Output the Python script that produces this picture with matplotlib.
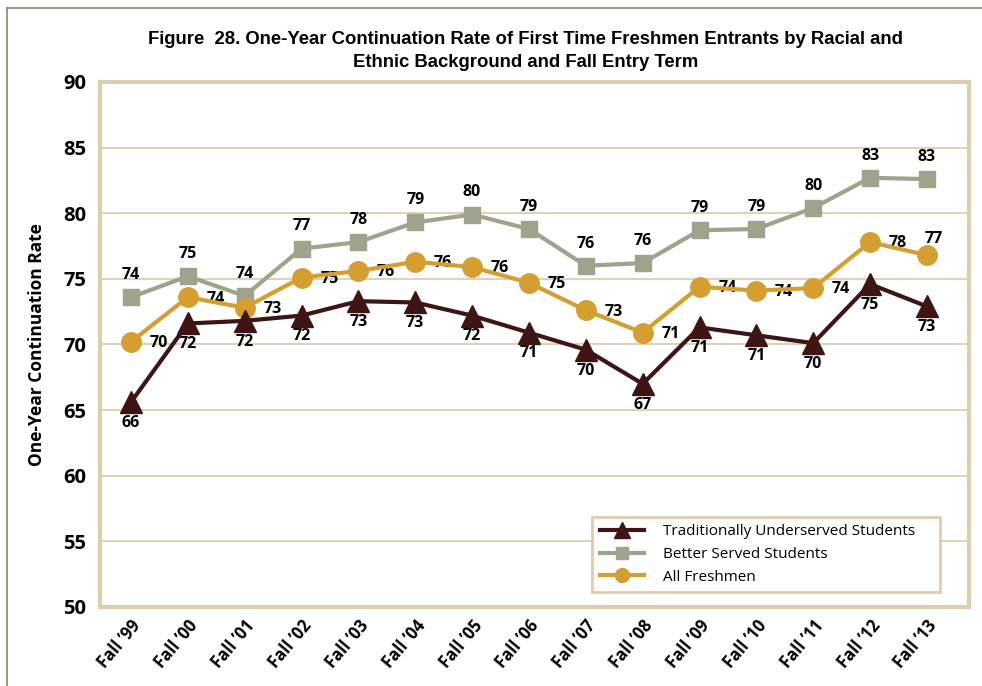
import matplotlib
matplotlib.use("Agg")
import matplotlib.pyplot as plt
from matplotlib.lines import Line2D
from matplotlib.patches import Rectangle

plt.rcParams["font.family"] = ["Open Sans", "DejaVu Sans"]

terms = ["Fall \u201999", "Fall \u201900", "Fall \u201901", "Fall \u201902", "Fall \u201903",
         "Fall \u201904", "Fall \u201905", "Fall \u201906", "Fall \u201907", "Fall \u201908",
         "Fall \u201909", "Fall \u201910", "Fall \u201911", "Fall \u201912", "Fall \u201913"]
underserved = [65.6, 71.6, 71.8, 72.2, 73.3, 73.2, 72.2, 70.9, 69.6, 67.0, 71.3, 70.7, 70.1, 74.6, 72.9]
better_served = [73.6, 75.2, 73.7, 77.3, 77.8, 79.3, 79.9, 78.8, 76.0, 76.2, 78.7, 78.8, 80.4, 82.7, 82.6]
all_freshmen = [70.2, 73.6, 72.8, 75.1, 75.6, 76.3, 75.9, 74.7, 72.6, 70.9, 74.4, 74.1, 74.3, 77.8, 76.8]
y_ticks = [50, 55, 60, 65, 70, 75, 80, 85, 90]

c_under = "#3f1414"
c_better = "#9fa38c"
c_all = "#d49e30"
tan = "#dccfb0"

fig = plt.figure(figsize=(9.82, 6.86), dpi=100)
ax = fig.add_axes([0.1018, 0.1152, 0.885, 0.7653])

x = list(range(len(terms)))
ax.plot(x, better_served, color=c_better, lw=3, marker="s", ms=12, zorder=3)
ax.plot(x, all_freshmen, color=c_all, lw=3, marker="o", ms=14, zorder=4)
ax.plot(x, underserved, color=c_under, lw=3, marker="^", ms=16, zorder=5)

lab_kw = dict(fontsize=11.5, fontweight="bold", color="black", textcoords="offset points")
for i in x:
    ax.annotate(f"{round(underserved[i])}", (i, underserved[i]), xytext=(0, -15),
                ha="center", va="center", **lab_kw)
    ax.annotate(f"{round(better_served[i])}", (i, better_served[i]), xytext=(0, 16),
                ha="center", va="center", **lab_kw)
    if i == len(terms) - 1:
        off = (5, 12)
    else:
        off = (20, -1)
    ax.annotate(f"{round(all_freshmen[i])}", (i, all_freshmen[i]), xytext=off,
                ha="center", va="center", **lab_kw)

ax.set_xlim(-0.545, 14.74)
ax.set_ylim(50, 90)
ax.set_yticks(y_ticks)
ax.set_yticklabels([str(t) for t in y_ticks], fontsize=14.5, fontweight="bold")
ax.set_xticks(x)
ax.set_xticklabels(terms, rotation=50, ha="right", va="top", rotation_mode="anchor",
                   fontsize=12, fontweight="bold")
ax.tick_params(axis="both", length=0, pad=10)
ax.tick_params(axis="x", pad=7)
ax.grid(axis="y", color=tan, lw=1.3, zorder=0)
for s in ax.spines.values():
    s.set_color(tan)
    s.set_linewidth(3)
ax.set_ylabel("One-Year Continuation Rate", fontsize=12.5, fontweight="bold", labelpad=12)

# legend box
ax.add_patch(Rectangle((0.566, 0.0286), 0.4006, 0.1424, transform=ax.transAxes,
                       facecolor="white", edgecolor=tan, lw=2, zorder=9))
handles = [
    Line2D([], [], color=c_under, lw=3, marker="^", ms=12),
    Line2D([], [], color=c_better, lw=3, marker="s", ms=9),
    Line2D([], [], color=c_all, lw=3, marker="o", ms=10),
]
leg = ax.legend(handles, ["Traditionally Underserved Students", "Better Served Students", "All Freshmen"],
                loc="center left", bbox_to_anchor=(0.5754, 0.0998), fontsize=11, frameon=False,
                handlelength=2.9, borderpad=0, labelspacing=0.5, handletextpad=1.2, borderaxespad=0)
leg.set_zorder(10)

fig.text(0.535, 0.926, "Figure  28. One-Year Continuation Rate of First Time Freshmen Entrants by Racial and\nEthnic Background and Fall Entry Term",
         ha="center", va="center", fontsize=13.3, fontweight="bold",
         family=["Liberation Sans", "DejaVu Sans"], linespacing=1.45)

# page frame
fig.add_artist(Line2D([0.007, 1.0], [0.988, 0.988], color="#8c8678", lw=1.2, transform=fig.transFigure))
fig.add_artist(Line2D([0.007, 0.007], [0.0, 0.988], color="#8c8678", lw=1.2, transform=fig.transFigure))

fig.savefig("out.png", dpi=100)
